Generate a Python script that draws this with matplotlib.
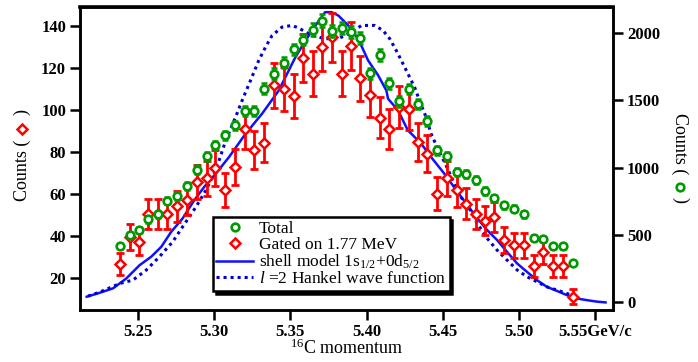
import matplotlib
matplotlib.use("Agg")
import matplotlib.pyplot as plt
from matplotlib.lines import Line2D

plt.rcParams['font.family'] = ['Liberation Serif', 'DejaVu Serif']
plt.rcParams['mathtext.fontset'] = 'custom'
plt.rcParams['mathtext.rm'] = 'Liberation Serif'
plt.rcParams['mathtext.it'] = 'Liberation Serif:italic'
plt.rcParams['mathtext.bf'] = 'Liberation Serif:bold'

# ---- data ----
momentum = [5.2381, 5.2446, 5.2507, 5.2565, 5.2630, 5.2692, 5.2759, 5.2821, 5.2885, 5.2950,
            5.3008, 5.3072, 5.3137, 5.3204, 5.3261, 5.3326, 5.3391, 5.3456, 5.3521, 5.3582,
            5.3647, 5.3706, 5.3771, 5.3836, 5.3900, 5.3956, 5.4020, 5.4087, 5.4145, 5.4211,
            5.4276, 5.4338, 5.4397, 5.4462, 5.4527, 5.4591, 5.4651, 5.4716, 5.4780, 5.4838,
            5.4904, 5.4969, 5.5034, 5.5097, 5.5158, 5.5223, 5.5288, 5.5353]

total_counts = [417, 499, 535, 617, 654, 753, 787, 861, 985, 1084,
                1165, 1239, 1313, 1417, 1417, 1585, 1696, 1778, 1876, 1950,
                2024, 2091, 2010, 2034, 2004, 1960, 1700, 1834, 1624, 1491,
                1583, 1470, 1347, 1128, 1084, 967, 950, 906, 828, 772,
                721, 693, 655, 474, 467, 415, 415, 293]
total_err = [20, 22, 23, 25, 26, 27, 28, 29, 31, 33,
             34, 35, 36, 38, 38, 40, 41, 42, 43, 44,
             45, 46, 45, 45, 45, 44, 41, 43, 40, 39,
             40, 38, 37, 34, 33, 31, 31, 30, 29, 28,
             27, 26, 26, 22, 22, 20, 20, 17]

gated_counts = [26.8, 39.7, 37.4, 50.8, 50.8, 50.8, 54.3, 57.5, 65.8, 67.5,
                72.5, 62.0, 73.0, 91.2, 80.9, 84.5, 111.7, 110.1, 106.6, 124.7,
                117.3, 129.9, 134.6, 117.3, 130.5, 115.2, 107.0, 96.4, 90.8, 101.4,
                100.3, 84.8, 79.3, 60.3, 67.5, 61.9, 55.6, 50.8, 47.5, 49.2,
                38.2, 35.8, 35.8, 26.0, 32.6, 26.0, 26.0, 11.3]
gated_err = [5.2, 6.3, 6.1, 7.1, 7.1, 7.1, 7.4, 7.6, 8.1, 8.2,
             8.5, 7.9, 8.5, 9.5, 9.0, 9.2, 10.6, 10.5, 10.3, 11.2,
             10.8, 11.4, 11.6, 10.8, 11.4, 10.7, 10.3, 9.8, 9.5, 10.1,
             10.0, 9.2, 8.9, 7.8, 8.2, 7.9, 7.5, 7.1, 6.9, 7.0,
             6.2, 6.0, 6.0, 5.1, 5.7, 5.1, 5.1, 3.6]

shell_x = [5.2164, 5.2250, 5.2337, 5.2424, 5.2511, 5.2587, 5.2653, 5.2718, 5.2793, 5.2870,
           5.2935, 5.3011, 5.3098, 5.3207, 5.3315, 5.3424, 5.3533, 5.3641, 5.3728, 5.3771,
           5.3815, 5.3880, 5.3945, 5.4010, 5.4076, 5.4130, 5.4141, 5.4206, 5.4271, 5.4358,
           5.4423, 5.4510, 5.4597, 5.4662, 5.4727, 5.4792, 5.4857, 5.4922, 5.4988, 5.5053,
           5.5118, 5.5183, 5.5248, 5.5313, 5.5378, 5.5444, 5.5509, 5.5568]
shell_y = [11.3, 13.2, 15.3, 20.0, 26.3, 30.3, 35.0, 42.1, 48.5, 57.2,
           63.5, 69.8, 77.7, 88.8, 98.3, 109.3, 125.1, 137.8, 146.5, 146.5,
           144.9, 140.2, 133.9, 123.6, 116.5, 109.3, 105.4, 99.9, 90.4, 84.1,
           77.7, 69.8, 61.1, 54.8, 48.5, 42.9, 38.2, 32.6, 27.1, 23.1,
           19.2, 16.0, 14.1, 12.1, 10.5, 9.7, 9.0, 8.6]

hankel_x = [5.2172, 5.2250, 5.2381, 5.2467, 5.2555, 5.2641, 5.2728, 5.2793, 5.2881, 5.2946,
            5.3011, 5.3076, 5.3141, 5.3184, 5.3239, 5.3293, 5.3337, 5.3380, 5.3445, 5.3510,
            5.3554, 5.3641, 5.3728, 5.3815, 5.3902, 5.3967, 5.4054, 5.4108, 5.4152, 5.4195,
            5.4239, 5.4282, 5.4315, 5.4347, 5.4390, 5.4423, 5.4467, 5.4521, 5.4576, 5.4619,
            5.4662, 5.4727, 5.4792, 5.4857, 5.4922, 5.4988, 5.5053, 5.5118, 5.5183, 5.5248,
            5.5313, 5.5392]
hankel_y = [11.6, 13.5, 17.6, 19.2, 24.0, 30.3, 37.4, 44.5, 54.0, 61.9,
            71.4, 85.5, 96.7, 104.6, 114.1, 123.6, 129.9, 135.4, 139.4, 140.2,
            139.0, 135.4, 133.9, 133.9, 137.0, 140.2, 140.2, 137.8, 133.9, 128.3,
            122.0, 115.7, 110.9, 104.6, 96.7, 88.8, 81.8, 73.8, 65.1, 58.6,
            54.8, 46.1, 39.0, 33.4, 28.7, 24.0, 20.8, 18.4, 16.0, 14.5,
            12.9, 10.9]

x_ticks = [5.25, 5.30, 5.35, 5.40, 5.45, 5.50, 5.55]
x_ticklabels = ['5.25', '5.30', '5.35', '5.40', '5.45', '5.50', '5.55GeV/c']
left_ticks = [20, 40, 60, 80, 100, 120, 140]
right_ticks = [0, 500, 1000, 1500, 2000]

legend_labels = ['Total', 'Gated on 1.77 MeV',
                 r'shell model 1s$_{1/2}$+0d$_{5/2}$',
                 r'$l$ =2 Hankel wave function']

RED = '#ff0000'
GREEN = '#009a00'
BLUE = '#1010ff'
DBLUE = '#0000d0'

fig = plt.figure(figsize=(6.98, 3.62), dpi=100)
ax = fig.add_axes([80 / 698, 1 - 310 / 362, (613 - 80) / 698, (310 - 6.5) / 362])
ax2 = ax.twinx()

# theory curves
ax.plot(shell_x, shell_y, color=BLUE, lw=1.8, zorder=3)
ax.plot(hankel_x, hankel_y, color=DBLUE, lw=2.2, linestyle=(0, (1, 1.3)),
        dash_capstyle='butt', zorder=3)

# gated data (left axis)
ax.errorbar(momentum, gated_counts, yerr=gated_err, fmt='none', ecolor=RED,
            elinewidth=2.0, capsize=3, capthick=2.0, zorder=4)
ax.plot(momentum, gated_counts, linestyle='none', marker='D', ms=5.5, mew=1.8,
        mec=RED, mfc='white', zorder=5)

# total data (right axis)
ax2.errorbar(momentum, total_counts, yerr=total_err, fmt='none', ecolor=GREEN,
             elinewidth=1.6, capsize=2.5, capthick=1.8, zorder=4)
ax2.plot(momentum, total_counts, linestyle='none', marker='o', ms=5.5, mew=1.9,
         mec=GREEN, mfc='white', zorder=5)

ax.set_xlim(5.212, 5.5617)
ax.set_ylim(5, 149.2)
ax2.set_ylim(-57, 2195)

ax.set_xticks(x_ticks)
ax.set_xticklabels(x_ticklabels)
ax.set_yticks(left_ticks)
ax2.set_yticks(right_ticks)

tick_font = dict(family='Liberation Serif', weight='bold', size=12)
for lab in ax.get_xticklabels() + ax.get_yticklabels() + ax2.get_yticklabels():
    lab.set_fontproperties(matplotlib.font_manager.FontProperties(**tick_font))

ax.tick_params(axis='both', which='major', direction='out', length=7, width=1.8,
               top=False, right=False, pad=3)
ax2.tick_params(axis='y', which='major', direction='out', length=7, width=1.8, pad=3)

for sp in ax.spines.values():
    sp.set_linewidth(1.8)
for sp in ax2.spines.values():
    sp.set_linewidth(1.8)
ax.spines['top'].set_linewidth(2.6)

ax.set_xlabel(r'$^{16}$C momentum', fontsize=13, labelpad=-1)

# y labels with marker symbols
fig.text(22 / 698, 1 - 140 / 362, 'Counts (', rotation=90, rotation_mode='anchor',
         ha='right', va='center', fontsize=13)
fig.text(22 / 698, 1 - 112 / 362, ')', rotation=90, rotation_mode='anchor',
         ha='center', va='center', fontsize=13)
fig.add_artist(Line2D([22 / 698], [1 - 129 / 362], transform=fig.transFigure,
                      linestyle='none', marker='D', ms=5.5, mew=1.8, mec=RED, mfc='white'))

fig.text(680 / 698, 1 - 174 / 362, 'Counts (', rotation=-90, rotation_mode='anchor',
         ha='right', va='center', fontsize=13)
fig.text(680 / 698, 1 - 200 / 362, ')', rotation=-90, rotation_mode='anchor',
         ha='center', va='center', fontsize=13)
fig.add_artist(Line2D([680 / 698], [1 - 187 / 362], transform=fig.transFigure,
                      linestyle='none', marker='o', ms=5.5, mew=1.9, mec=GREEN, mfc='white'))

# legend
handles = [
    Line2D([], [], linestyle='none', marker='o', ms=5.5, mew=1.9, mec=GREEN, mfc='white'),
    Line2D([], [], linestyle='none', marker='D', ms=5.5, mew=1.8, mec=RED, mfc='white'),
    Line2D([], [], color=BLUE, lw=1.8),
    Line2D([], [], color=DBLUE, lw=2.2, linestyle=(0, (1, 1.3)), dash_capstyle='butt'),
]
leg = ax2.legend(handles, legend_labels, loc='upper left',
                 bbox_to_anchor=(213 / 698, 1 - 217 / 362), bbox_transform=fig.transFigure,
                 borderaxespad=0, fontsize=12.5, frameon=True, fancybox=False,
                 framealpha=1, edgecolor='black', handlelength=2.1, handletextpad=0.35,
                 labelspacing=0.0, borderpad=0.2,
                 shadow={'color': 'black', 'alpha': 1})
leg.get_frame().set_linewidth(1.8)

fig.savefig('out.png', dpi=100)
